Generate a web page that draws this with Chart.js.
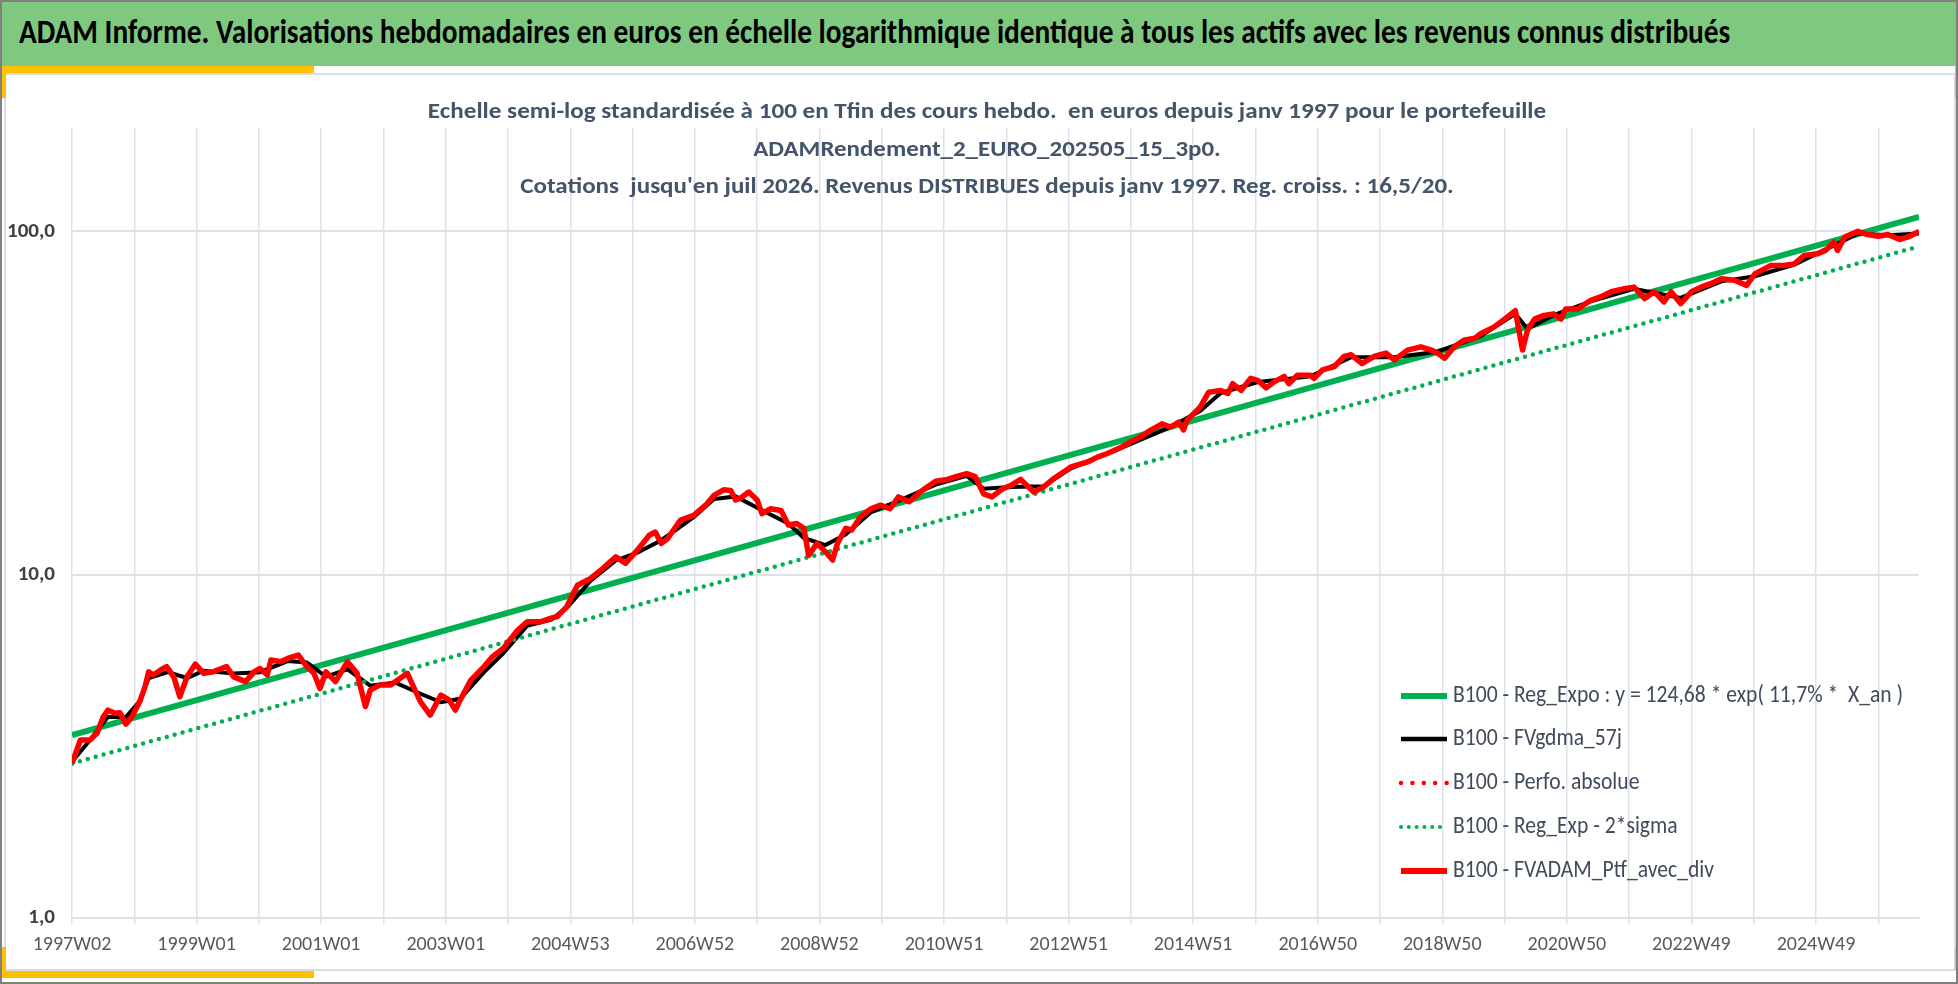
<!DOCTYPE html>
<html>
<head>
<meta charset="utf-8">
<script src="https://cdn.jsdelivr.net/npm/chart.js@4.4.1/dist/chart.umd.min.js"></script>
<style>
html, body { margin: 0; padding: 0; background: #fff; }
body { width: 1958px; height: 984px; position: relative; overflow: hidden;
       font-family: "Liberation Sans Narrow", "Carlito", "Open Sans", sans-serif; }
.abs { position: absolute; }
#frame { left: 0; top: 0; width: 1954px; height: 980px; border: 2px solid #808080; }
#header { left: 0; top: 0; width: 1958px; height: 66px; background: #7FC87F; }
#headerText { left: 19px; top: 12px; font-size: 34px; line-height: 40px; font-weight: bold;
              color: #000; white-space: pre; transform-origin: 0 0; }
#inner { left: 4px; top: 73px; width: 1948px; height: 894px; border: 2px solid #DCDDE2; }
.yel { background: #FFC000; }
.ttl { left: 987px; font-size: 22px; line-height: 26px; font-weight: bold; color: #44546A; white-space: pre; }
#chart { position: absolute; left: 0; top: 74px; }
</style>
</head>
<body>
<div id="header" class="abs"></div>
<div id="headerText" class="abs fit" data-w="1711">ADAM Informe. Valorisations hebdomadaires en euros en échelle logarithmique identique à tous les actifs avec les revenus connus distribués</div>
<div id="inner" class="abs"></div>
<div class="abs yel" style="left:0;top:66px;width:314px;height:7px"></div>
<div class="abs yel" style="left:0;top:66px;width:6px;height:32px"></div>
<div class="abs yel" style="left:0;top:971px;width:314px;height:7px"></div>
<div class="abs yel" style="left:0;top:947px;width:6px;height:31px"></div>
<div class="abs yel" style="left:1955px;top:66px;width:3px;height:32px"></div>
<div class="abs yel" style="left:1955px;top:947px;width:3px;height:23px"></div>
<div id="frame" class="abs"></div>

<canvas id="chart" width="1958" height="896"></canvas>

<div class="abs ttl fitc" data-w="1118" style="top:98px">Echelle semi-log standardisée à 100 en Tfin des cours hebdo.  en euros depuis janv 1997 pour le portefeuille</div>
<div class="abs ttl fitc" data-w="468" style="top:136px">ADAMRendement_2_EURO_202505_15_3p0.</div>
<div class="abs ttl fitc" data-w="934" style="top:173px">Cotations  jusqu'en juil 2026. Revenus DISTRIBUES depuis janv 1997. Reg. croiss. : 16,5/20.</div>

<script>
// axis labels
const xTickLabels = ['1997W02', '', '1999W01', '', '2001W01', '', '2003W01', '', '2004W53', '',
  '2006W52', '', '2008W52', '', '2010W51', '', '2012W51', '', '2014W51', '', '2016W50', '',
  '2018W50', '', '2020W50', '', '2022W49', '', '2024W49', ''];
const weeksPerYear = 52;
const lastWeek = 1542;
const yTicks = [1, 10, 100];
const yTickLabels = ['1,0', '10,0', '100,0'];

// FVADAM_Ptf_avec_div (weeks since 1997W02, base 100)
const ptfWeeks = [0, 7, 15, 21, 26, 30, 36, 40, 45, 50, 57, 61, 64, 68, 74, 79, 85, 90, 96, 103,
  110, 118, 129, 135, 145, 152, 157, 163, 166, 174, 180, 189, 196, 202, 207, 212, 220, 230, 238, 245,
  249, 257, 266, 280, 285, 291, 299, 308, 315, 320, 324, 333, 344, 351, 360, 372, 380, 391, 400, 405,
  413, 422, 433, 443, 454, 462, 472, 482, 487, 492, 497, 508, 519, 529, 536, 544, 550, 554, 558, 565,
  572, 576, 583, 592, 598, 605, 611, 615, 622, 629, 635, 639, 646, 651, 658, 667, 675, 683, 690, 699,
  708, 721, 731, 738, 747, 754, 761, 768, 777, 784, 792, 803, 811, 820, 834, 848, 856, 864, 876, 884,
  892, 901, 910, 917, 924, 928, 931, 942, 949, 959, 965, 969, 976, 984, 990, 997, 1004, 1012, 1016, 1023,
  1034, 1037, 1044, 1054, 1062, 1068, 1077, 1087, 1097, 1104, 1115, 1126, 1135, 1140, 1146, 1154, 1162, 1171, 1176, 1187,
  1196, 1205, 1211, 1215, 1221, 1229, 1237, 1243, 1247, 1257, 1268, 1276, 1285, 1296, 1304, 1313, 1321, 1329, 1335, 1343,
  1352, 1360, 1368, 1377, 1388, 1398, 1405, 1418, 1429, 1438, 1446, 1457, 1464, 1471, 1474, 1480, 1491, 1499, 1508, 1516,
  1526, 1533, 1542];
const ptfValues = [2.82, 3.30, 3.30, 3.46, 3.85, 4.03, 3.95, 3.96, 3.67, 3.85, 4.31, 4.72, 5.21, 5.10, 5.28, 5.40, 5.04, 4.41, 5.04, 5.49,
  5.16, 5.21, 5.40, 5.04, 4.88, 5.21, 5.33, 5.10, 5.64, 5.58, 5.70, 5.83, 5.40, 5.16, 4.66, 5.21, 4.88, 5.58, 5.16, 4.13,
  4.61, 4.77, 4.77, 5.16, 4.72, 4.26, 3.90, 4.46, 4.31, 4.03, 4.31, 4.93, 5.40, 5.77, 6.10, 6.89, 7.29, 7.29, 7.47, 7.55,
  8.06, 9.32, 9.75, 10.42, 11.27, 10.79, 11.79, 13.03, 13.31, 12.33, 12.72, 14.41, 14.88, 15.94, 17.03, 17.67, 17.6, 16.5, 16.7, 17.4,
  16.5, 15.06, 15.56, 15.37, 13.96, 14.1, 13.65, 11.38, 12.33, 11.67, 11.03, 12.33, 13.65, 13.5, 14.7, 15.56, 15.94, 15.56, 16.85, 16.3,
  17.4, 18.71, 18.95, 19.3, 19.7, 19.3, 17.2, 16.85, 17.8, 18.2, 18.95, 17.4, 18.0, 19.1, 20.6, 21.3, 22.0, 22.5, 23.5, 24.4,
  25.2, 26.4, 27.5, 26.9, 27.8, 26.4, 28.2, 30.8, 34.0, 34.4, 33.7, 36.0, 34.4, 37.3, 36.8, 35.0, 36.5, 37.8, 36.0, 38.1,
  38.1, 37.3, 39.5, 40.4, 43.2, 43.7, 41.2, 43.2, 44.2, 42.2, 45.1, 46.1, 45.1, 44.2, 42.7, 46.1, 48.2, 48.8, 50.3, 52.6,
  55.5, 58.7, 45.1, 51.4, 55.5, 56.9, 57.5, 55.5, 59.4, 59.4, 63.0, 64.4, 66.7, 68.1, 68.8, 63.7, 66.7, 62.3, 66.7, 61.6,
  66.7, 68.8, 70.4, 72.8, 72.0, 69.6, 75.2, 79.5, 79.5, 80.4, 85.0, 86.0, 88.0, 93.0, 88.0, 96.3, 100, 97.9, 96.8, 97.9,
  94.7, 96.3, 100];

// FVgdma_57j (smoothed, mostly hidden under the portfolio line)
const gdmaWeeks = [0, 15, 30, 45, 57, 64, 80, 96, 110, 135, 157, 180, 196, 212, 230, 249, 270, 291, 308, 324,
  344, 360, 380, 400, 413, 433, 454, 472, 492, 519, 536, 554, 576, 598, 611, 629, 646, 667, 690, 721,
  747, 761, 784, 811, 834, 876, 917, 942, 959, 990, 1034, 1068, 1104, 1140, 1176, 1205, 1215, 1237, 1268, 1304,
  1343, 1377, 1405, 1438, 1471, 1491, 1516, 1542];
const gdmaValues = [2.85, 3.3, 3.85, 3.85, 4.3, 5.0, 5.2, 5.0, 5.25, 5.15, 5.2, 5.6, 5.55, 5.05, 5.3, 4.75, 4.85, 4.5, 4.25, 4.35,
  5.2, 5.9, 7.1, 7.4, 8.0, 9.6, 11.0, 11.6, 12.6, 14.7, 16.6, 16.9, 15.4, 14.1, 12.8, 12.2, 13.1, 15.2, 16.4, 18.3,
  19.4, 17.8, 18.0, 18.1, 20.4, 23.4, 26.9, 30.0, 33.8, 36.4, 37.8, 43.0, 43.0, 44.6, 49.5, 57.5, 52.0, 57.0, 62.5, 68.0,
  64.0, 71.5, 74.0, 80.0, 91.0, 98.5, 97.5, 98.5];

// exponential regression and regression - 2 sigma (straight on the log axis)
const regWeeks = [0, 1542];
const regValues = [3.41, 110.1];
const sigmaValues = [2.82, 90.4];

const toPoints = (xs, ys) => xs.map((x, i) => ({ x: x, y: ys[i] }));
const ptfPoints = toPoints(ptfWeeks, ptfValues);
const gdmaPoints = toPoints(gdmaWeeks, gdmaValues);
const regPoints = toPoints(regWeeks, regValues);
const sigmaPoints = toPoints(regWeeks, sigmaValues);

const gridColor = '#DEE1E7';
const fontFamily = '"Liberation Sans Narrow", "Carlito", "Open Sans", sans-serif';

// legend drawn inside the plot, bottom right
const insideLegend = {
  id: 'insideLegend',
  afterDraw(chart) {
    const ctx = chart.ctx;
    const items = chart.data.datasets.slice().reverse();
    const rowY = [622, 665, 709, 753, 797];
    ctx.save();
    ctx.font = '24px ' + fontFamily;
    const sx = 261 / ctx.measureText(items[4].label).width;
    items.forEach((ds, i) => {
      const y = rowY[i];
      ctx.beginPath();
      ctx.strokeStyle = ds.borderColor;
      ctx.lineWidth = ds.legendWidth;
      ctx.lineCap = ds.borderDash ? 'round' : 'butt';
      ctx.setLineDash(ds.borderDash ? ds.legendDash : []);
      ctx.moveTo(1401, y);
      ctx.lineTo(1447, y);
      ctx.stroke();
      ctx.setLineDash([]);
      ctx.fillStyle = '#404B5B';
      ctx.textBaseline = 'middle';
      ctx.save();
      ctx.translate(1453, y);
      ctx.scale(sx, 1);
      ctx.fillText(ds.label, 0, 0);
      ctx.restore();
    });
    ctx.restore();
  }
};

new Chart(document.getElementById('chart').getContext('2d'), {
  type: 'line',
  data: {
    datasets: [
      { label: 'B100 - FVADAM_Ptf_avec_div', data: ptfPoints, borderColor: '#FF0000',
        borderWidth: 5.5, legendWidth: 6, borderJoinStyle: 'round' },
      { label: 'B100 - Reg_Exp - 2*sigma', data: sigmaPoints, borderColor: '#00B050',
        borderWidth: 4.5, borderDash: [0, 8.2], borderCapStyle: 'round', legendWidth: 4, legendDash: [0, 7.8] },
      { label: 'B100 - Perfo. absolue', data: ptfPoints, borderColor: '#FF0000',
        borderWidth: 4.5, borderDash: [0, 11.5], borderCapStyle: 'round', legendWidth: 4.5, legendDash: [0, 11.4] },
      { label: 'B100 - FVgdma_57j', data: gdmaPoints, borderColor: '#000000',
        borderWidth: 4, legendWidth: 4.5 },
      { label: 'B100 - Reg_Expo : y = 124,68 * exp( 11,7% *  X_an )', data: regPoints, borderColor: '#00B050',
        borderWidth: 6, legendWidth: 6 }
    ]
  },
  options: {
    responsive: false,
    animation: false,
    layout: { padding: { left: 0, right: 39, top: 54, bottom: 0 } },
    elements: { point: { radius: 0 }, line: { tension: 0 } },
    plugins: { legend: { display: false }, tooltip: { enabled: false } },
    scales: {
      x: {
        type: 'linear',
        min: 0,
        max: lastWeek,
        afterBuildTicks: s => { s.ticks = xTickLabels.map((_, i) => ({ value: i * weeksPerYear })); },
        afterFit: s => { s.height = 52; },
        ticks: {
          autoSkip: false, maxRotation: 0, padding: 9, color: '#595959',
          font: { family: fontFamily, size: 20 },
          callback: v => xTickLabels[Math.round(v / weeksPerYear)]
        },
        grid: { color: gridColor, lineWidth: 1.5, tickLength: 6 },
        border: { display: true, color: gridColor, width: 2 }
      },
      y: {
        type: 'logarithmic',
        min: 1,
        max: 200,
        afterBuildTicks: s => { s.ticks = yTicks.map(v => ({ value: v, major: true })); },
        afterFit: s => { s.width = 72; },
        ticks: {
          padding: 17, color: '#404040',
          font: { family: fontFamily, size: 21, weight: 'bold' },
          callback: v => yTickLabels[yTicks.indexOf(v)]
        },
        grid: { color: gridColor, lineWidth: 2, drawTicks: false },
        border: { display: false }
      }
    }
  },
  plugins: [insideLegend]
});

// fit the html text lines to the widths of the original
document.querySelectorAll('.fit').forEach(el => {
  el.style.transform = 'scaleX(' + (el.dataset.w / el.offsetWidth) + ')';
});
document.querySelectorAll('.fitc').forEach(el => {
  el.style.transform = 'translateX(-50%) scaleX(' + (el.dataset.w / el.offsetWidth) + ')';
});
</script>
</body>
</html>
